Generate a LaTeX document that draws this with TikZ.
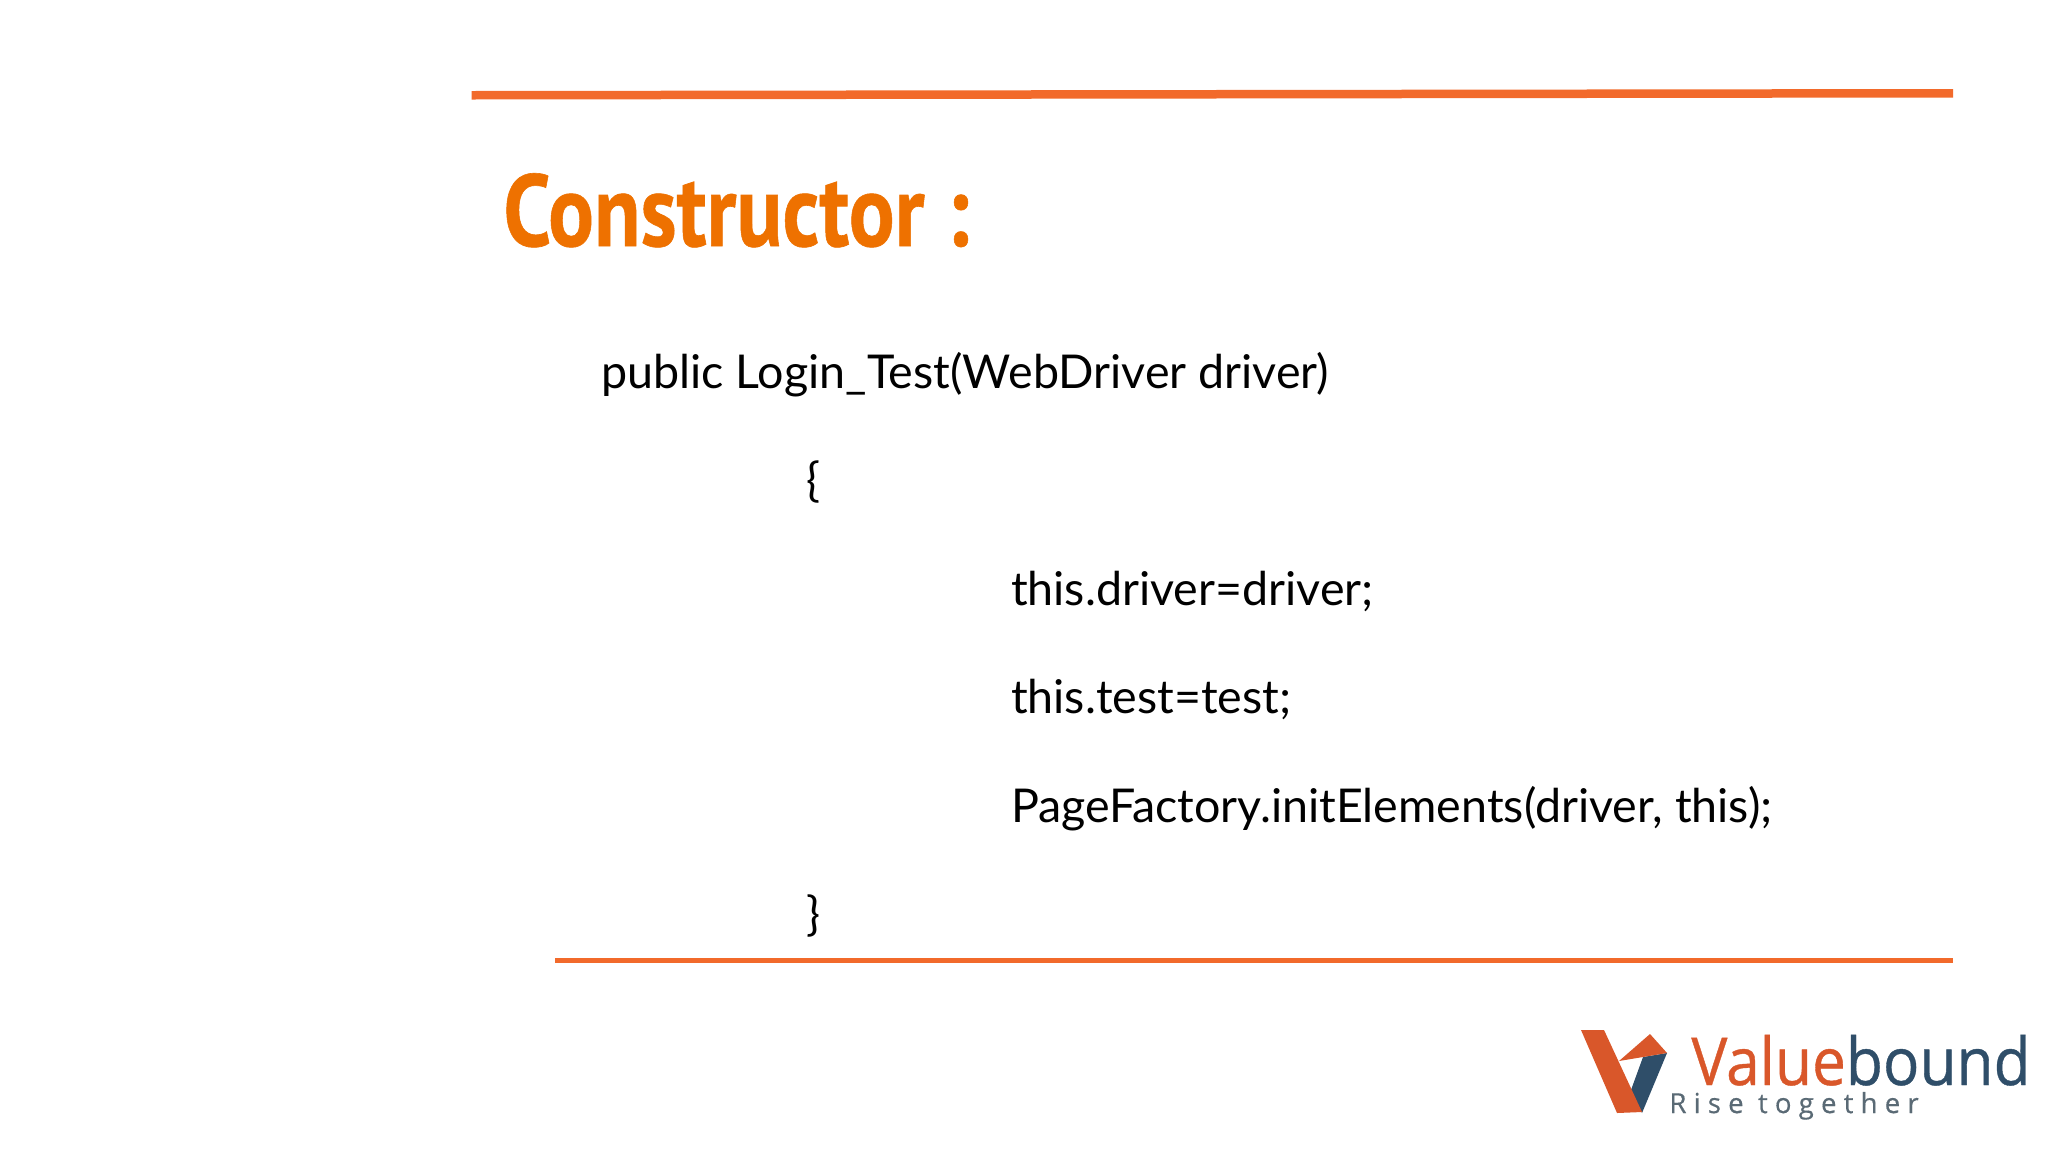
\documentclass[tikz,border=0pt]{standalone}
\usepackage{fontspec}
\setmainfont{Lato}
\newfontfamily\titlefont[FakeBold=0.6]{PT Sans Bold}
\newfontfamily\logofont[FakeBold=0.6]{Open Sans}
\newfontfamily\tagfont[LetterSpace=26,FakeBold=0.4]{Open Sans}
\definecolor{rulecol}{HTML}{F26A2B}
\definecolor{titlecol}{HTML}{EE7100}
\definecolor{logoorange}{HTML}{D9572A}
\definecolor{logoblue}{HTML}{2F4E69}
\definecolor{taggray}{HTML}{5A6A75}
\tikzset{
  txt/.style={anchor=base west,inner sep=0pt,outer sep=0pt,text=black,font=\fontsize{23.3}{28}\selectfont},
}
\begin{document}
\begin{tikzpicture}[x=0.5pt,y=-0.5pt]
\useasboundingbox (0,0) rectangle (2048,1152);
\fill[white] (0,0) rectangle (2048,1152);
\fill[rulecol] (471.5,91) -- (1953,89) -- (1953,97.5) -- (471.5,99.5) -- cycle;
\fill[rulecol] (555,958) rectangle (1953,963);
\node[anchor=base west,inner sep=0pt,text=titlecol] (title) at (503,246)
  {\scalebox{0.8375}[1]{\titlefont\fontsize{51}{60}\selectfont Constructor :}};
\node[txt] (l1) at (601,388.5) {public Login\_Test(WebDriver driver)};
\node[txt] (l2) at (806,496.5) {\{};
\node[txt] (l3) at (1011,605) {this.driver=driver;};
\node[txt] (l4) at (1011,713.5) {this.test=test;};
\node[txt] (l5) at (1011,822) {PageFactory.initElements(driver, this);};
\node[txt] (l6) at (806,930) {\}};
% logo
\fill[logoblue] (1643,1057) -- (1667,1053) -- (1642,1113) -- (1631,1090) -- cycle;
\fill[logoorange] (1581,1030) -- (1604,1030) -- (1642,1112) -- (1617,1113) -- cycle;
\fill[logoorange] (1619,1061) -- (1650,1034) -- (1667,1053) -- (1643,1057) -- cycle;
\node[anchor=base west,inner sep=0pt] (logo) at (1691,1085)
  {\scalebox{0.915}[1]{\logofont\fontsize{33}{36}\selectfont\textcolor{logoorange}{Value}\textcolor{logoblue}{bound}}};
\node[anchor=base west,inner sep=0pt,text=taggray] (tag) at (1669,1113)
  {\tagfont\fontsize{13.8}{16}\selectfont Rise together};
\end{tikzpicture}
\end{document}
